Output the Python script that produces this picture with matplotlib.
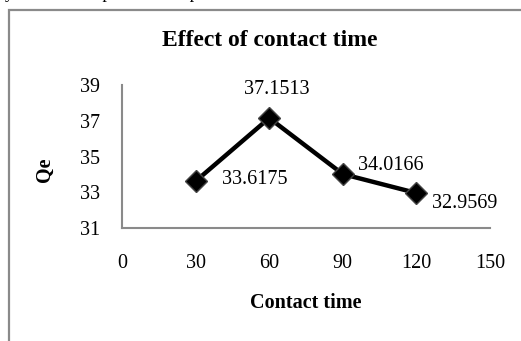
import matplotlib
matplotlib.use("Agg")
import matplotlib.pyplot as plt
from matplotlib.patches import Rectangle

contact_time = [30, 60, 90, 120]
qe = [33.6175, 37.1513, 34.0166, 32.9569]
labels = ["33.6175", "37.1513", "34.0166", "32.9569"]
x_ticks = [0, 30, 60, 90, 120, 150]
y_ticks = [31, 33, 35, 37, 39]

W, H = 521, 341
plt.rcParams['font.family'] = ['Liberation Serif', 'DejaVu Serif']
fig = plt.figure(figsize=(W / 100, H / 100), dpi=100)

def fx(px):
    return px / W

def fy(py):
    return 1 - py / H

# outer frame (chart area border, partly cut off)
fig.patches.append(Rectangle((fx(8.5), fy(400)), fx(600), fy(10.5) - fy(400),
                             transform=fig.transFigure, fill=False,
                             edgecolor='#8a8a8a', linewidth=1.6))

# cut-off text line from the document above
fig.text(fx(0), fy(-1.5), "ly in the adsorption of the process.", fontsize=13,
         ha='left', va='baseline', color='black')

ax = fig.add_axes([fx(122), fy(228), fx(490) - fx(122), fy(85) - fy(228)])
ax.plot(contact_time, qe, color='black', linewidth=3.2, marker='D',
        markersize=11.5, markerfacecolor='black', markeredgecolor='#444444',
        markeredgewidth=1.0, solid_joinstyle='miter', zorder=3)

offsets = [(26, 1.5, 'left'), (8, 29, 'center'), (15, 9, 'left'), (16, -10, 'left')]
for x, y, lab, (dx, dy, ha) in zip(contact_time, qe, labels, offsets):
    ax.annotate(lab, (x, y), xytext=(dx * 0.72, dy * 0.72), textcoords='offset points',
                ha=ha, va='center', fontsize=14.5)

ax.set_xlim(0, 150)
ax.set_ylim(31, 39)
ax.set_xticks(x_ticks)
ax.set_yticks(y_ticks)
ax.tick_params(axis='both', length=0, labelsize=14.5)
ax.tick_params(axis='y', pad=16)
ax.tick_params(axis='x', pad=19)
for s in ['top', 'right']:
    ax.spines[s].set_visible(False)
for s in ['left', 'bottom']:
    ax.spines[s].set_color('#8a8a8a')
    ax.spines[s].set_linewidth(1.5)

fig.text(fx(270), fy(41), "Effect of contact time", ha='center', va='center',
         fontsize=17, fontweight='bold')
fig.text(fx(306), fy(303), "Contact time", ha='center', va='center',
         fontsize=14.5, fontweight='bold')
fig.text(fx(45), fy(170), "Qe", ha='center', va='center', rotation=90,
         fontsize=14.5, fontweight='bold')

fig.savefig("out.png", dpi=100)
